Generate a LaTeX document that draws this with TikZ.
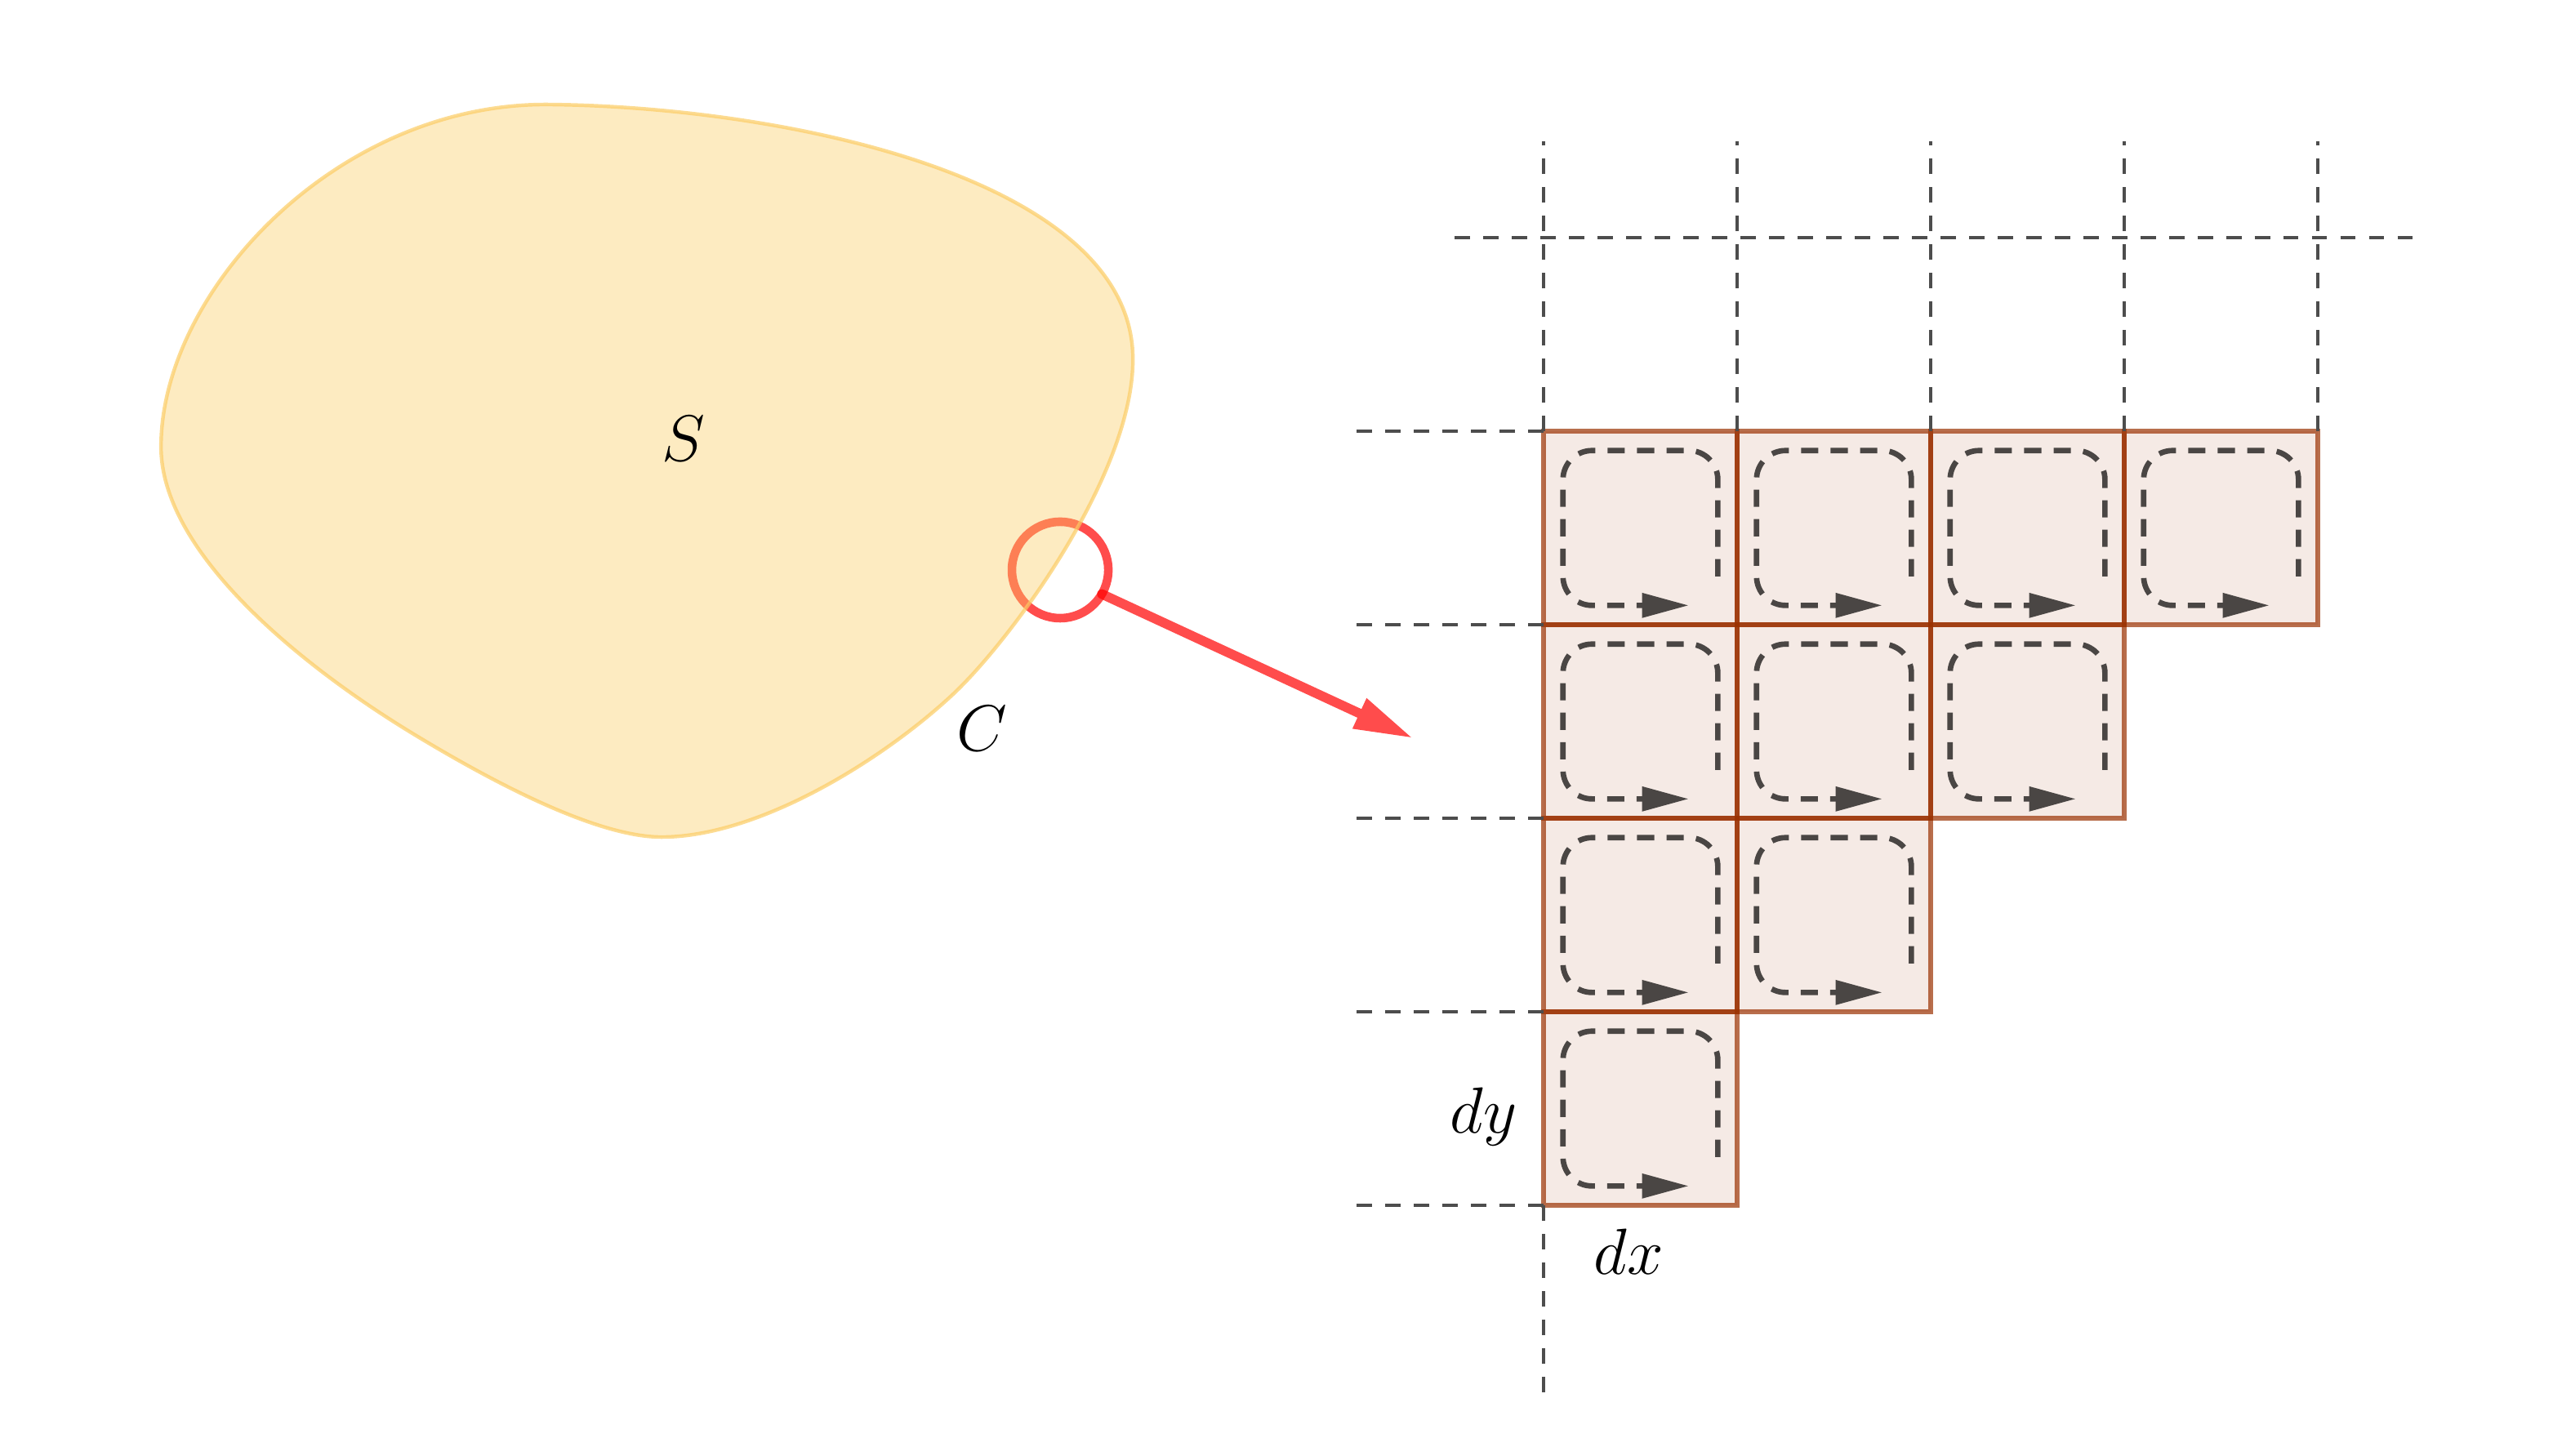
\documentclass[tikz,border=0pt]{standalone}
\usepackage{xcolor}
\usepackage{tikz}
\usetikzlibrary{arrows.meta,positioning}

\definecolor{blobyellow}{RGB}{251,204,100}
\definecolor{cellbrown}{RGB}{154,48,0}
\definecolor{loopgray}{RGB}{74,70,68}
\definecolor{gridgray}{RGB}{77,77,77}

\begin{document}
\begin{tikzpicture}[
    x=1.5cm, y=1.5cm,
    node distance=0pt,
    cell/.style={rectangle, draw=cellbrown, fill=cellbrown, draw opacity=0.7, fill opacity=0.1, line width=1pt,
        minimum size=1.5cm, inner sep=0pt, outer sep=0pt,
        path picture={\draw[loopline] ([shift={(1.35cm,0.375cm)}]path picture bounding box.south west)
            -- ++(0,0.975cm) -- ++(-1.2cm,0) -- ++(0,-1.2cm) -- ++(0.975cm,0);}},
    loopline/.style={draw=loopgray, opacity=1, line width=1.2pt, dash pattern=on 3.8pt off 2.7pt,
        rounded corners=0.225cm, -{Triangle[length=10.3pt,width=5.2pt]}},
    gridline/.style={draw=gridgray, line width=0.75pt, dash pattern=on 3.4pt off 2.9pt},
    blob/.style={draw=blobyellow, fill=blobyellow, draw opacity=0.7, fill opacity=0.4, line width=0.8pt},
    ring/.style={circle, draw=red, draw opacity=0.7, line width=1.9pt, minimum size=0.747cm, inner sep=0pt, outer sep=0pt},
    arrow/.style={draw=red, line width=2.1pt, line cap=round, -{Triangle[length=13pt,width=6.8pt]}},
    mathlabel/.style={font=\Large, inner sep=0pt}
]
    \useasboundingbox (-7.975,-1.291) rectangle (5.215,6.228);

    % Zoom ring (under the region, so it turns orange inside)
    \node [ring] (zoomring) at (-2.498,3.283) {};

    % Region S with boundary C
    \draw [blob] (-5.135,5.688)
        .. controls (-3.9,5.675) and (-2.12,5.3) .. (-2.122,4.371)
        .. controls (-2.122,3.771) and (-2.759,2.914) .. (-3.051,2.641)
        .. controls (-3.416,2.300) and (-4.057,1.903) .. (-4.557,1.903)
        .. controls (-4.907,1.903) and (-5.467,2.212) .. (-5.810,2.418)
        .. controls (-6.411,2.778) and (-7.143,3.370) .. (-7.143,3.920)
        .. controls (-7.143,4.720) and (-6.235,5.700) .. (-5.135,5.688) -- cycle;
    \node [mathlabel] (slabel) at (-4.443,3.962) {$S$};
    \node [mathlabel] (clabel) at (-2.903,2.464) {$C$};

    % Zoom arrow
    \coordinate (zoomtip) at (-0.675,2.414);
    \begin{scope}[transparency group, opacity=0.7]
        \draw [arrow] (zoomring.-30) -- (zoomtip);
    \end{scope}

    %--- Cells (rows from the top) ---
    \node [cell] (r1c1) at (0.5,3.5) {};
    \node [cell, right=of r1c1] (r1c2) {};
    \node [cell, right=of r1c2] (r1c3) {};
    \node [cell, right=of r1c3] (r1c4) {};
    \node [cell, below=of r1c1] (r2c1) {};
    \node [cell, right=of r2c1] (r2c2) {};
    \node [cell, right=of r2c2] (r2c3) {};
    \node [cell, below=of r2c1] (r3c1) {};
    \node [cell, right=of r3c1] (r3c2) {};
    \node [cell, below=of r3c1] (r4c1) {};

    %--- Dashed grid lines ---
    \draw [gridline] (r1c1.north west) -- ++(0,1.5);
    \draw [gridline] (r1c2.north west) -- ++(0,1.5);
    \draw [gridline] (r1c3.north west) -- ++(0,1.5);
    \draw [gridline] (r1c4.north west) -- ++(0,1.5);
    \draw [gridline] (r1c4.north east) -- ++(0,1.5);
    \draw [gridline] (r1c1.north west) -- ++(-0.97,0);
    \draw [gridline] (r2c1.north west) -- ++(-0.97,0);
    \draw [gridline] (r3c1.north west) -- ++(-0.97,0);
    \draw [gridline] (r4c1.north west) -- ++(-0.97,0);
    \draw [gridline] (r4c1.south west) -- ++(-0.97,0);
    \draw [gridline] (r4c1.south west) -- ++(0,-1);
    \coordinate (topleft) at (-0.46,5);
    \coordinate (topright) at (4.51,5);
    \draw [gridline] (topleft) -- (topright);

    % Cell sizes
    \node [mathlabel] (dylabel) at (-0.31,0.46) {$dy$};
    \node [mathlabel] (dxlabel) at (0.44,-0.24) {$dx$};

\end{tikzpicture}
\end{document}
